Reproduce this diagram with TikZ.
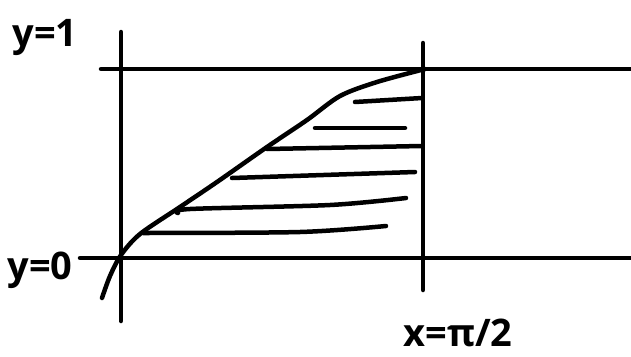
\documentclass[tikz,border=0pt]{standalone}
\usepackage{fontspec}
\setsansfont{Open Sans}

\tikzset{
  sketch/.style={line width=4.5pt,line cap=round,line join=round},
  hatch/.style={line width=4.5pt,line cap=round},
  lbl/.style={font=\sffamily\bfseries\fontsize{38}{42}\selectfont,inner sep=0pt}
}

\begin{document}
\begin{tikzpicture}[x=1pt,y=-1pt]
  \useasboundingbox (0,0) rectangle (631,356);
  \def\xa{121}
  \def\xb{423}
  \def\ytop{69}
  \def\ybot{258}

  % grid lines
  \draw[sketch] (\xa,32) -- (\xa,321);
  \draw[sketch] (\xb,43) -- (\xb,290);
  \draw[sketch] (101,\ytop) -- (631,\ytop);
  \draw[sketch] (80,\ybot) -- (631,\ybot);

  % the curve
  \draw[sketch] plot[smooth,tension=0.5] coordinates {(102,298) (110,276) (121,255)
    (140,234) (180,207) (217,182) (267,147) (307,120) (340,96) (377,82) (425,69)};

  % hatching
  \draw[hatch] (355,102) -- (422,98);
  \draw[hatch] (315,128) -- (405,128);
  \draw[hatch] (267,149) -- (422,146);
  \draw[hatch] (232,178) -- (415,172);
  \draw[hatch] plot[smooth] coordinates {(178,213) (190,209) (330,205) (406,198)};
  \draw[hatch] plot[smooth] coordinates {(143,233) (300,232) (386,226)};

  \node[lbl] (yone) at (45,37) {y=1};
  \node[lbl] (yzero) at (40,270) {y=0};
  \node[lbl] (xhalf) at (458,333) {x=π/2};
\end{tikzpicture}
\end{document}
